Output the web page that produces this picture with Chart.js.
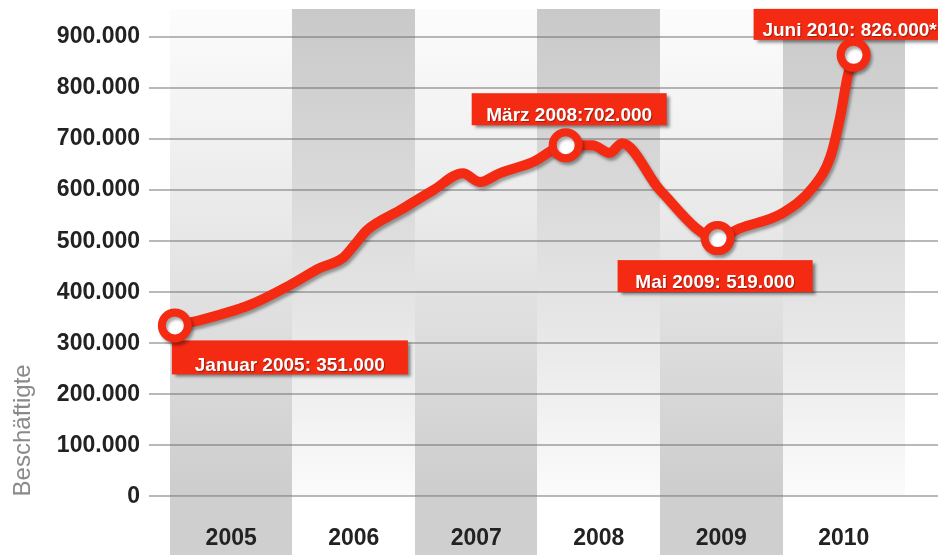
<!DOCTYPE html>
<html>
<head>
<meta charset="utf-8">
<script src="https://cdn.jsdelivr.net/npm/chart.js@4"></script>
<style>
  html, body { margin: 0; padding: 0; background: #fff; }
</style>
</head>
<body>
<canvas id="chart" width="938" height="555"></canvas>
<script>
// Zeitpunkt (Jahr, dezimal) und Beschäftigte
const timeline = [
  2005.04, 2005.24, 2005.65, 2005.98, 2006.22, 2006.41, 2006.49, 2006.61,
  2006.88, 2007.15, 2007.39, 2007.53, 2007.69, 2007.96, 2008.23, 2008.45,
  2008.59, 2008.69, 2009.0, 2009.47, 2009.65, 2010.0, 2010.25, 2010.39,
  2010.47, 2010.53, 2010.58,
];
const employed = [
  335000, 345000, 375000, 414000, 447000, 467000, 488000, 522000,
  561000, 600000, 633000, 616000, 633000, 655000, 688000, 688000,
  673000, 692000, 600000, 506000, 525000, 555000, 606000, 665000,
  743000, 822000, 865000,
];
const years = [2005, 2006, 2007, 2008, 2009, 2010];
const yTicks = [0, 100000, 200000, 300000, 400000, 500000, 600000, 700000, 800000, 900000];

// markierte Punkte mit Beschriftung
const calloutIndex = [0, 14, 19, 26];
const calloutText = [
  "Januar 2005: 351.000",
  "März 2008:702.000",
  "Mai 2009: 519.000",
  "Juni 2010: 826.000*",
];

const RED = "#f42a12";
const FONT = "'Liberation Sans', Arial, Helvetica, sans-serif";

// Lage der Kästchen relativ zum Punkt
const boxStyle = [
  { dx: -3, dy: 15, w: 236, h: 34 },
  { dx: -94, dy: -52, w: 195, h: 32 },
  { dx: -100, dy: 22, w: 195, h: 32 },
  { dx: -100, dy: -46, w: 192, h: 31 },
];

function fmt(v) {
  return v === 0 ? "0" : v / 1000 + ".000";
}

// Spalten-Hintergrund mit Verlauf
const backdrop = {
  id: "backdrop",
  beforeDraw(chart) {
    const { ctx, chartArea } = chart;
    const x = chart.scales.x;
    const top = 9;
    years.forEach((yr, i) => {
      const x0 = Math.round(x.getPixelForValue(yr));
      const x1 = Math.round(x.getPixelForValue(yr + 1));
      const g = ctx.createLinearGradient(0, top, 0, chartArea.bottom);
      if (i % 2 === 0) {
        g.addColorStop(0, "#fcfcfc");
        g.addColorStop(0.2, "#f4f4f4");
        g.addColorStop(1, "#cdcdcd");
      } else {
        g.addColorStop(0, "#c9c9c9");
        g.addColorStop(0.6, "#e4e4e4");
        g.addColorStop(1, "#fbfbfb");
      }
      ctx.fillStyle = g;
      ctx.fillRect(x0, top, x1 - x0, chartArea.bottom - top);
      ctx.fillStyle = i % 2 === 0 ? "#cfcfcf" : "#ffffff";
      ctx.fillRect(x0, chartArea.bottom, x1 - x0, chart.height - chartArea.bottom);
    });
  },
};

// Beschriftungskästchen + Schatten für die Linie
const callouts = {
  id: "callouts",
  beforeDatasetsDraw(chart) {
    const { ctx } = chart;
    const meta = chart.getDatasetMeta(0);
    calloutIndex.forEach((idx, i) => {
      const pt = meta.data[idx];
      const b = boxStyle[i];
      const bx = pt.x + b.dx;
      const by = pt.y + b.dy;
      ctx.save();
      ctx.shadowColor = "rgba(0,0,0,0.45)";
      ctx.shadowOffsetX = 3;
      ctx.shadowOffsetY = 3;
      ctx.shadowBlur = 3;
      ctx.fillStyle = RED;
      ctx.fillRect(bx, by, b.w, b.h);
      ctx.shadowColor = "rgba(0,0,0,0.35)";
      ctx.shadowOffsetX = 1;
      ctx.shadowOffsetY = 1;
      ctx.shadowBlur = 1;
      ctx.fillStyle = "#ffffff";
      ctx.font = "bold 19px " + FONT;
      ctx.textAlign = "center";
      ctx.textBaseline = "middle";
      ctx.fillText(calloutText[i], bx + b.w / 2, by + b.h - 9);
      ctx.restore();
    });
    ctx.save();
    ctx.shadowColor = "rgba(0,0,0,0.35)";
    ctx.shadowOffsetX = 2;
    ctx.shadowOffsetY = 3;
    ctx.shadowBlur = 3;
  },
  afterDatasetsDraw(chart) {
    chart.ctx.restore();
  },
};

const ctx = document.getElementById("chart").getContext("2d");
const chart = new Chart(ctx, {
  type: "line",
  data: {
    datasets: [
      {
        label: "Beschäftigte",
        data: timeline.map((t, i) => ({ x: t, y: employed[i] })),
        borderColor: RED,
        borderWidth: 10,
        borderCapStyle: "round",
        borderJoinStyle: "round",
        cubicInterpolationMode: "monotone",
        pointRadius: (c) => (calloutIndex.includes(c.dataIndex) ? 13 : 0),
        pointHoverRadius: (c) => (calloutIndex.includes(c.dataIndex) ? 13 : 0),
        pointBackgroundColor: "#ffffff",
        pointBorderColor: RED,
        pointBorderWidth: 8,
        fill: false,
        clip: false,
      },
    ],
  },
  options: {
    responsive: false,
    animation: false,
    layout: { autoPadding: false, padding: { top: 37, right: 0, bottom: 3, left: 0 } },
    scales: {
      x: {
        type: "linear",
        min: 2004.829,
        max: 2011.269,
        afterBuildTicks: (s) => {
          s.ticks = years.map((y) => ({ value: y + 0.5 }));
        },
        grid: { display: false, drawTicks: true, tickLength: 28 },
        border: { display: false },
        ticks: {
          autoSkip: false,
          maxRotation: 0,
          padding: 0,
          color: "#222222",
          font: { family: FONT, size: 23, weight: "bold" },
          callback: (v) => String(Math.floor(v)),
        },
      },
      y: {
        min: 0,
        max: 900000,
        afterBuildTicks: (s) => {
          s.ticks = yTicks.map((v) => ({ value: v }));
        },
        afterFit: (s) => {
          s.width = 149;
        },
        grid: { color: "rgba(100,100,100,0.45)", lineWidth: 2, drawTicks: false },
        border: { display: false },
        ticks: {
          padding: 9,
          color: "#222222",
          font: { family: FONT, size: 23, weight: "bold" },
          callback: (v) => fmt(v),
        },
        title: {
          display: true,
          text: "Beschäftigte",
          align: "start",
          color: "#8a8a8a",
          padding: { top: 9, bottom: 0 },
          font: { family: FONT, size: 24 },
        },
      },
    },
    plugins: {
      legend: { display: false },
      tooltip: { enabled: false },
    },
  },
  plugins: [backdrop, callouts],
});
</script>
</body>
</html>
